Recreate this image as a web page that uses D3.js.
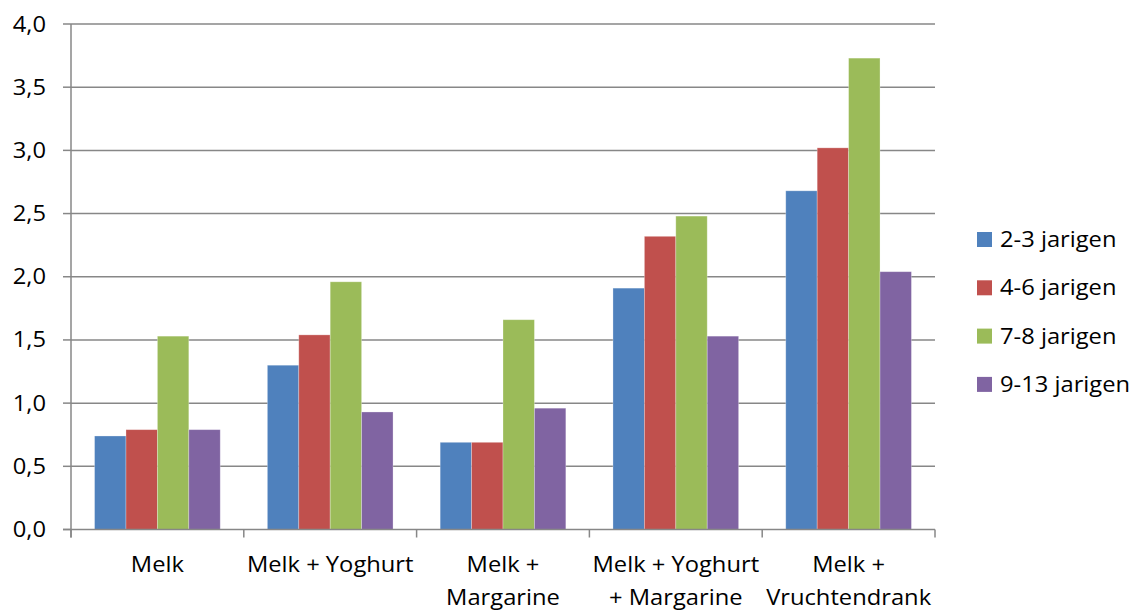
<!DOCTYPE html>
<html>
<head>
<meta charset="utf-8">
<script src="https://cdn.jsdelivr.net/npm/d3@7"></script>
<style>
  html, body { margin: 0; padding: 0; background: #fff; }
  svg text { font-family: "Open Sans", "Noto Sans", sans-serif; fill: #000; }
</style>
</head>
<body>
<svg id="chart" width="1130" height="610"></svg>
<script>
// Product groups on the x axis ("\n" marks a line break in the label)
const categories = [
  "Melk",
  "Melk + Yoghurt",
  "Melk +\nMargarine",
  "Melk + Yoghurt\n+ Margarine",
  "Melk +\nVruchtendrank"
];

// Age groups (series)
const seriesNames = ["2-3 jarigen", "4-6 jarigen", "7-8 jarigen", "9-13 jarigen"];
const seriesColors = ["#4F81BD", "#C0504D", "#9BBB59", "#8064A2"];

// Values per series, one per product group
const values23 = [0.74, 1.30, 0.69, 1.91, 2.68];
const values46 = [0.79, 1.54, 0.69, 2.32, 3.02];
const values78 = [1.53, 1.96, 1.66, 2.48, 3.73];
const values913 = [0.79, 0.93, 0.96, 1.53, 2.04];

// Y axis ticks
const yTicks = [0, 0.5, 1, 1.5, 2, 2.5, 3, 3.5, 4];

const seriesValues = [values23, values46, values78, values913];

const svg = d3.select("#chart");
const plotLeft = 71, plotRight = 935, plotTop = 24, plotBottom = 529.5;
const textScale = 1.13;
const fontSize = 21;

const x0 = d3.scaleBand().domain(categories).range([plotLeft, plotRight]).paddingInner(0).paddingOuter(0);
// gap of 1.5 bar widths per group: 0.75 on each side
const barW = x0.bandwidth() / 5.5;
const x1 = d3.scaleBand().domain(seriesNames)
  .range([barW * 0.75, barW * 0.75 + barW * 4]).padding(0);
const y = d3.scaleLinear().domain([0, 4]).range([plotBottom, plotTop]);

const fmt = v => d3.format(".1f")(v).replace(".", ",");

// Gridlines
svg.append("g")
  .selectAll("line")
  .data(yTicks.filter(t => t > 0))
  .join("line")
  .attr("x1", plotLeft).attr("x2", plotRight)
  .attr("y1", d => y(d)).attr("y2", d => y(d))
  .attr("stroke", "#878787").attr("stroke-width", 1.5);

// Bars
const rows = categories.map((c, i) => ({ cat: c, vals: seriesValues.map(s => s[i]) }));
const groups = svg.append("g").selectAll("g")
  .data(rows)
  .join("g")
  .attr("transform", d => `translate(${x0(d.cat)},0)`);
groups.selectAll("rect")
  .data(d => d.vals.map((v, k) => ({ name: seriesNames[k], v, k })))
  .join("rect")
  .attr("x", d => x1(d.name))
  .attr("width", x1.bandwidth())
  .attr("y", d => y(d.v))
  .attr("height", d => y(0) - y(d.v))
  .attr("fill", d => seriesColors[d.k])
  .attr("stroke", "rgba(255,255,255,0.35)")
  .attr("stroke-width", 0.8);

// Y axis
const yAxis = svg.append("g");
yAxis.append("line")
  .attr("x1", plotLeft).attr("x2", plotLeft)
  .attr("y1", plotTop).attr("y2", plotBottom + 8)
  .attr("stroke", "#878787").attr("stroke-width", 1.5);
yAxis.selectAll("line.tick")
  .data(yTicks)
  .join("line")
  .attr("class", "tick")
  .attr("x1", plotLeft - 8).attr("x2", plotLeft)
  .attr("y1", d => y(d)).attr("y2", d => y(d))
  .attr("stroke", "#878787").attr("stroke-width", 1.5);
yAxis.selectAll("text")
  .data(yTicks)
  .join("text")
  .attr("transform", d => `translate(46,${y(d) + 7.5}) scale(${textScale},1)`)
  .attr("text-anchor", "end")
  .style("font-size", fontSize + "px")
  .text(d => fmt(d));

// X axis
const xAxis = svg.append("g");
xAxis.append("line")
  .attr("x1", plotLeft - 8).attr("x2", plotRight)
  .attr("y1", plotBottom).attr("y2", plotBottom)
  .attr("stroke", "#878787").attr("stroke-width", 1.5);
const bounds = categories.map(c => x0(c)).concat([plotRight]);
xAxis.selectAll("line.tick")
  .data(bounds)
  .join("line")
  .attr("class", "tick")
  .attr("x1", d => d).attr("x2", d => d)
  .attr("y1", plotBottom).attr("y2", plotBottom + 8)
  .attr("stroke", "#878787").attr("stroke-width", 1.5);
const labels = xAxis.selectAll("g.lab")
  .data(categories)
  .join("g")
  .attr("class", "lab");
labels.each(function (c) {
  const lines = c.split("\n");
  const cx = x0(c) + x0.bandwidth() / 2;
  d3.select(this).selectAll("text")
    .data(lines)
    .join("text")
    .attr("transform", (l, i) => `translate(${cx},${571.5 + i * 33}) scale(${textScale},1)`)
    .attr("text-anchor", "middle")
    .style("font-size", fontSize + "px")
    .text(l => l);
});

// Legend
const legend = svg.append("g").selectAll("g")
  .data(seriesNames)
  .join("g")
  .attr("transform", (d, i) => `translate(977,${232 + i * 48.3})`);
legend.append("rect")
  .attr("width", 15).attr("height", 15)
  .attr("fill", (d, i) => seriesColors[i]);
legend.append("text")
  .attr("transform", `translate(23,15) scale(${textScale},1)`)
  .style("font-size", fontSize + "px")
  .text(d => d);
</script>
</body>
</html>
